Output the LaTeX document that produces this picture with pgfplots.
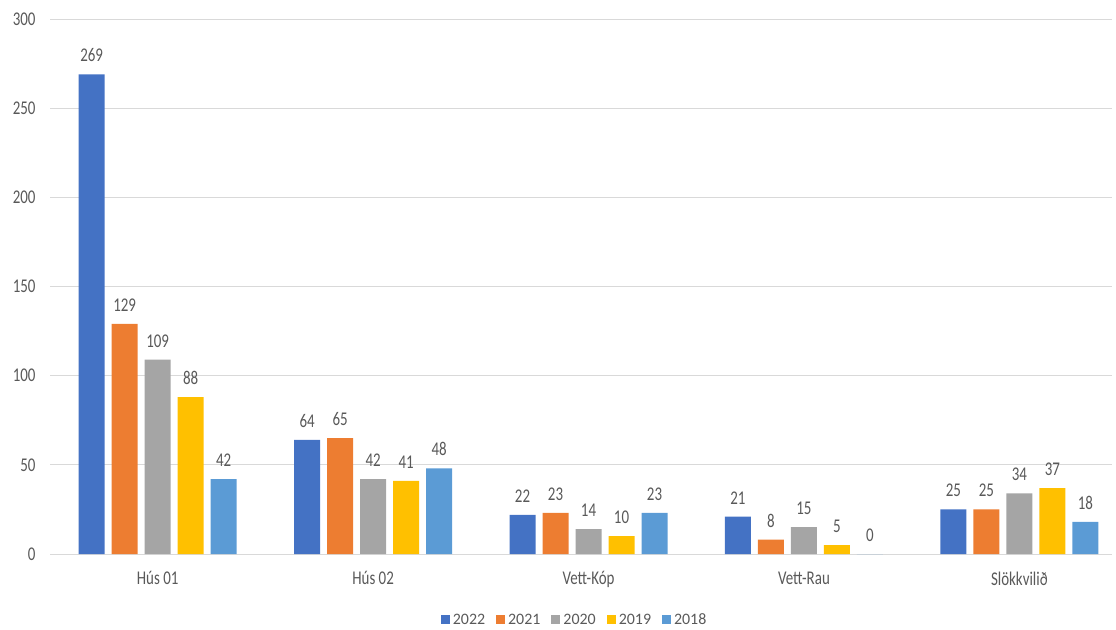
\documentclass[border=0pt]{standalone}
\usepackage{fontspec}
\setmainfont{Carlito}
\usepackage{pgfplots}
\pgfplotsset{compat=1.18}
\definecolor{c22}{HTML}{4472C4}
\definecolor{c21}{HTML}{ED7D31}
\definecolor{c20}{HTML}{A5A5A5}
\definecolor{c19}{HTML}{FFC000}
\definecolor{c18}{HTML}{5B9BD5}
\definecolor{txt}{HTML}{595959}
\definecolor{grd}{HTML}{D9D9D9}
\begin{document}
\begin{tikzpicture}
\path[use as bounding box] (0,0) rectangle (1116bp,630bp);
\begin{axis}[
  at={(50bp,76bp)}, anchor=south west,
  scale only axis, width=1062bp, height=535bp,
  xmin=-0.5, xmax=4.43,
  ymin=0, ymax=300,
  ytick={0,50,...,300},
  xtick=data,
  xticklabels={Hús 01,Hús 02,Vett-Kóp,Vett-Rau,Slökkvilið},
  ybar=7bp, bar width=26bp,
  axis line style={draw=none},
  extra y ticks={0}, extra y tick style={grid style={draw=grd, line width=1bp}, yticklabels={}},
  ymajorgrids, grid style={draw=grd, line width=0.8bp},
  major tick length=0pt,
  tick style={draw=none},
  /pgf/number format/assume math mode=true,
  ticklabel style={font=\fontsize{15}{18}\selectfont, text=txt, yscale=1.3},
  yticklabel style={xshift=-11bp},
  xticklabel style={yshift=-10bp},
  nodes near coords,
  nodes near coords style={font=\fontsize{15}{18}\selectfont, text=txt, yscale=1.3, yshift=6bp},
  legend style={at={(0.494,-0.123)}, anchor=center, draw=none, fill=none,
    legend columns=5, font=\fontsize{16}{18}\selectfont, text=txt,
    /tikz/every even column/.append style={column sep=9bp},
    /tikz/every odd column/.append style={column sep=1bp}},
  legend image code/.code={\fill[#1] (0bp,-4.5bp) rectangle (9bp,4.5bp);},
  clip=false,
]
\addplot[fill=c22, draw=none] coordinates {(0,269) (1,64) (2,22) (3,21) (4,25)};
\addplot[fill=c21, draw=none] coordinates {(0,129) (1,65) (2,23) (3,8) (4,25)};
\addplot[fill=c20, draw=none] coordinates {(0,109) (1,42) (2,14) (3,15) (4,34)};
\addplot[fill=c19, draw=none] coordinates {(0,88) (1,41) (2,10) (3,5) (4,37)};
\addplot[fill=c18, draw=none] coordinates {(0,42) (1,48) (2,23) (3,0) (4,18)};
\legend{2022,2021,2020,2019,2018}
\end{axis}
\end{tikzpicture}
\end{document}
